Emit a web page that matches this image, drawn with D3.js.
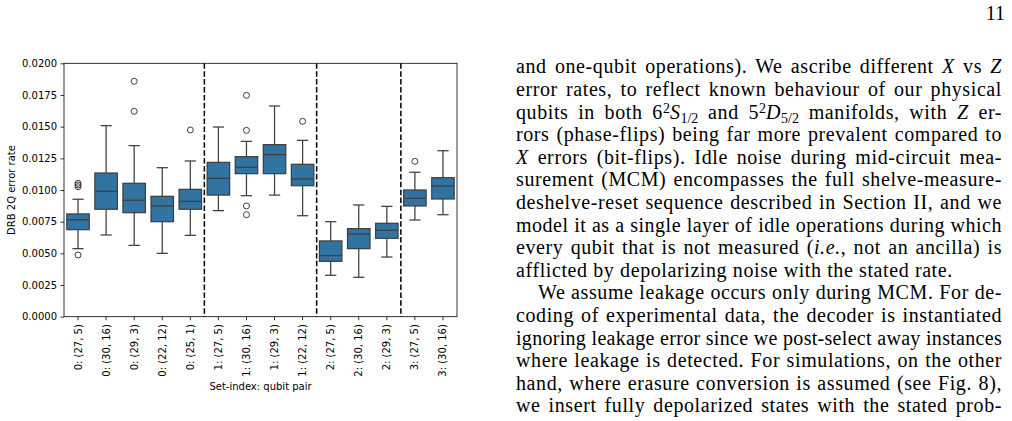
<!DOCTYPE html>
<html>
<head>
<meta charset="utf-8">
<script src="https://cdn.jsdelivr.net/npm/d3@7"></script>
<style>
  body { margin: 0; background: #fff; }
  #page { position: relative; width: 1012px; height: 421px; overflow: hidden; background: #fff; }
  #page svg { position: absolute; left: 0; top: 0; }
  .line {
    position: absolute;
    font-family: "Liberation Serif", serif;
    font-size: 20px;
    letter-spacing: 0.6px;
    line-height: 22.6px;
    white-space: nowrap;
    color: #000;
  }
  .just { text-align: justify; text-align-last: justify; }
  .line sup, .line sub { font-size: 0.7em; line-height: 0; letter-spacing: 0; }
  .line sup { vertical-align: 0.45em; }
  .line sub { vertical-align: -0.25em; }
</style>
</head>
<body>
<div id="page"></div>
<script>
// categories = "set-index: (qubit pair)"
const categories = ["0: (27, 5)", "0: (30, 16)", "0: (29, 3)", "0: (22, 12)", "0: (25, 1)",
  "1: (27, 5)", "1: (30, 16)", "1: (29, 3)", "1: (22, 12)",
  "2: (27, 5)", "2: (30, 16)", "2: (29, 3)",
  "3: (27, 5)", "3: (30, 16)"];

// box stats
const whiskerLow  = [0.00537, 0.00645, 0.00563, 0.00500, 0.00642, 0.00837, 0.00955, 0.00960, 0.00797, 0.00327, 0.00311, 0.00471, 0.00763, 0.00805];
const q1          = [0.00687, 0.00848, 0.00821, 0.00750, 0.00848, 0.00960, 0.01129, 0.01129, 0.01034, 0.00437, 0.00537, 0.00619, 0.00874, 0.00929];
const median      = [0.00766, 0.00990, 0.00919, 0.00874, 0.00911, 0.01092, 0.01179, 0.01279, 0.01087, 0.00482, 0.00653, 0.00682, 0.00934, 0.01032];
const q3          = [0.00811, 0.01134, 0.01053, 0.00950, 0.01005, 0.01218, 0.01263, 0.01358, 0.01203, 0.00598, 0.00695, 0.00737, 0.01000, 0.01097];
const whiskerHigh = [0.00927, 0.01508, 0.01350, 0.01176, 0.01229, 0.01497, 0.01384, 0.01663, 0.01392, 0.00750, 0.00882, 0.00871, 0.01140, 0.01310];
const outliers = [
  [0.00487, 0.01026, 0.01040, 0.01053], [], [0.01621, 0.01858], [], [0.01474],
  [], [0.00805, 0.00874, 0.01471, 0.01747], [], [0.01542],
  [], [], [],
  [0.01226], []
];

// dashed separators sit before these categories
const groupStarts = ["1: (27, 5)", "2: (27, 5)", "3: (27, 5)"];

const yTicks = [0, 0.0025, 0.005, 0.0075, 0.01, 0.0125, 0.015, 0.0175, 0.02];

// paragraph text on the right of the page
const textLines = [
  {html: 'and one-qubit operations). We ascribe different <i>X</i> vs <i>Z</i>', just: true},
  {html: 'error rates, to reflect known behaviour of our physical', just: true},
  {html: 'qubits in both 6<sup>2</sup><i>S</i><sub>1/2</sub> and 5<sup>2</sup><i>D</i><sub>5/2</sub> manifolds, with <i>Z</i> er-', just: true},
  {html: 'rors (phase-flips) being far more prevalent compared to', just: true},
  {html: '<i>X</i> errors (bit-flips). Idle noise during mid-circuit mea-', just: true},
  {html: 'surement (MCM) encompasses the full shelve-measure-', just: true},
  {html: 'deshelve-reset sequence described in Section II, and we', just: true},
  {html: 'model it as a single layer of idle operations during which', just: true},
  {html: 'every qubit that is not measured (<i>i.e.</i>, not an ancilla) is', just: true},
  {html: 'afflicted by depolarizing noise with the stated rate.', just: false},
  {html: 'We assume leakage occurs only during MCM. For de-', just: true, indent: true},
  {html: 'coding of experimental data, the decoder is instantiated', just: true},
  {html: 'ignoring leakage error since we post-select away instances', just: true},
  {html: 'where leakage is detected. For simulations, on the other', just: true},
  {html: 'hand, where erasure conversion is assumed (see Fig. 8),', just: true},
  {html: 'we insert fully depolarized states with the stated prob-', just: true}
];

const W = 1012, H = 421;
const margin = {top: 63.3, left: 64, right: 1012 - 457, bottom: 421 - 316.7};
const width = W - margin.left - margin.right,
      height = H - margin.top - margin.bottom;

const boxFill = "#3274a1", lineCol = "#3f3f3f";
const font = "DejaVu Sans, sans-serif";

const page = d3.select("#page");

const svg = page.append("svg")
    .attr("width", W)
    .attr("height", H);

const g = svg.append("g")
    .attr("transform", "translate(" + margin.left + "," + margin.top + ")");

const x = d3.scaleBand()
  .domain(categories)
  .range([0, width])
  .padding(0);

const y = d3.scaleLinear()
  .domain([0, 0.02])
  .range([height, 0]);

const bw = x.bandwidth() * 0.8;
const capW = bw * 0.5;

// group separators
g.selectAll(".sep")
  .data(groupStarts)
  .enter().append("line")
    .attr("x1", d => x(d))
    .attr("x2", d => x(d))
    .attr("y1", 0)
    .attr("y2", height)
    .attr("stroke", "#000")
    .attr("stroke-width", 1.5)
    .attr("stroke-dasharray", "5.5,2.4");

// boxes
const boxes = g.selectAll(".box")
  .data(categories.map((c, i) => ({c, i})))
  .enter().append("g")
    .attr("transform", d => "translate(" + (x(d.c) + x.bandwidth() / 2) + ",0)");

// whiskers
boxes.append("line")
  .attr("y1", d => y(q3[d.i])).attr("y2", d => y(whiskerHigh[d.i]))
  .attr("stroke", lineCol).attr("stroke-width", 1.25);
boxes.append("line")
  .attr("y1", d => y(q1[d.i])).attr("y2", d => y(whiskerLow[d.i]))
  .attr("stroke", lineCol).attr("stroke-width", 1.25);
// caps
boxes.append("line")
  .attr("x1", -capW / 2).attr("x2", capW / 2)
  .attr("y1", d => y(whiskerHigh[d.i])).attr("y2", d => y(whiskerHigh[d.i]))
  .attr("stroke", lineCol).attr("stroke-width", 1.25);
boxes.append("line")
  .attr("x1", -capW / 2).attr("x2", capW / 2)
  .attr("y1", d => y(whiskerLow[d.i])).attr("y2", d => y(whiskerLow[d.i]))
  .attr("stroke", lineCol).attr("stroke-width", 1.25);

boxes.append("rect")
  .attr("x", -bw / 2)
  .attr("width", bw)
  .attr("y", d => y(q3[d.i]))
  .attr("height", d => y(q1[d.i]) - y(q3[d.i]))
  .attr("fill", boxFill)
  .attr("stroke", lineCol)
  .attr("stroke-width", 1.25);

boxes.append("line")
  .attr("x1", -bw / 2).attr("x2", bw / 2)
  .attr("y1", d => y(median[d.i])).attr("y2", d => y(median[d.i]))
  .attr("stroke", lineCol).attr("stroke-width", 1.25);

boxes.selectAll("circle")
  .data(d => outliers[d.i])
  .enter().append("circle")
    .attr("cx", 0)
    .attr("cy", d => y(d))
    .attr("r", 3)
    .attr("fill", "none")
    .attr("stroke", lineCol)
    .attr("stroke-width", 1);

// axes
const yAxis = g.append("g")
  .call(d3.axisLeft(y).tickValues(yTicks).tickFormat(d3.format(".4f")).tickSize(3.5).tickPadding(3.5));
const xAxis = g.append("g")
  .attr("transform", "translate(0," + height + ")")
  .call(d3.axisBottom(x).tickSize(3.5).tickPadding(3.5));

[xAxis, yAxis].forEach(a => {
  a.select(".domain").remove();
  a.selectAll(".tick line").attr("stroke", "#000").attr("stroke-width", 0.8);
  a.selectAll("text").attr("font-family", font).attr("font-size", 10).attr("fill", "#000");
});

xAxis.selectAll(".tick text")
  .attr("transform", "rotate(-90)")
  .attr("text-anchor", "end")
  .attr("x", -7.5)
  .attr("y", 0)
  .attr("dy", "0.35em");

// frame
g.append("rect")
  .attr("width", width)
  .attr("height", height)
  .attr("fill", "none")
  .attr("stroke", "#000")
  .attr("stroke-width", 0.8);

// labels
svg.append("text")
  .attr("x", margin.left + width / 2)
  .attr("y", 390)
  .attr("text-anchor", "middle")
  .attr("font-family", font)
  .attr("font-size", 10)
  .text("Set-index: qubit pair");

svg.append("text")
  .attr("transform", "translate(15," + (margin.top + height / 2) + ") rotate(-90)")
  .attr("text-anchor", "middle")
  .attr("font-family", font)
  .attr("font-size", 10)
  .text("DRB 2Q error rate");

// page number
page.append("div")
  .attr("class", "line")
  .style("left", "940px")
  .style("width", "65px")
  .style("top", (20 - 18) + "px")
  .style("text-align", "right")
  .style("letter-spacing", "0")
  .text("11");

// body text column
const colLeft = 516, colWidth = 486, indent = 22;
page.selectAll(".body")
  .data(textLines)
  .enter().append("div")
    .attr("class", d => "line" + (d.just ? " just" : ""))
    .style("left", d => (colLeft + (d.indent ? indent : 0)) + "px")
    .style("width", d => (colWidth - (d.indent ? indent : 0)) + "px")
    .style("top", (d, i) => (73.3 + i * 22.6 - 18) + "px")
    .html(d => d.html)
    .each(function() {
      // tighten a line that would run past the column edge
      let ls = 0.6;
      while (this.scrollWidth > this.clientWidth && ls > -0.5) {
        ls -= 0.05;
        this.style.letterSpacing = ls + "px";
      }
    });
</script>
</body>
</html>
